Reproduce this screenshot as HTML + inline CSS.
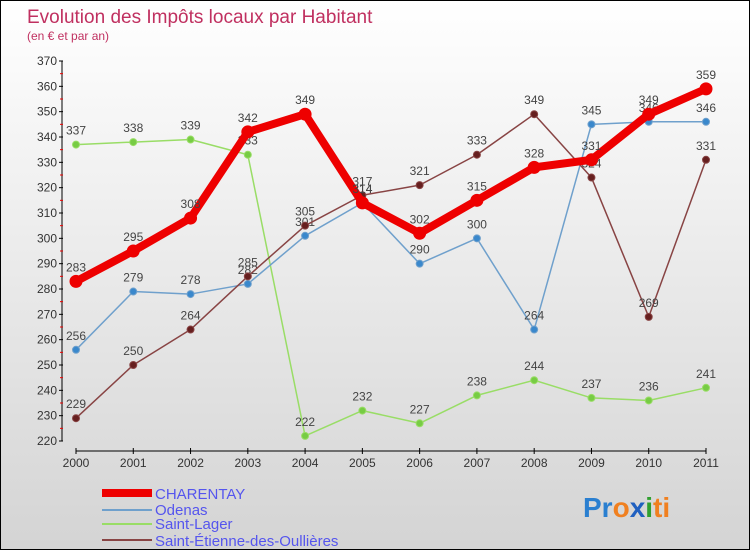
<!DOCTYPE html>
<html><head><meta charset="utf-8"><style>
body{margin:0}
#c{width:748px;height:548px;border:1px solid #000;background:linear-gradient(#fff,#d4d4d4);position:relative;font-family:"Liberation Sans",sans-serif;overflow:hidden}
</style></head><body>
<div id="c">
<svg width="748" height="548" id="s">
<text x="26" y="22" font-size="19" fill="#c03060">Evolution des Impôts locaux par Habitant</text>
<text x="26" y="39" font-size="12" fill="#c03060">(en € et par an)</text>
<g id="ax"></g><g id="ser"></g>
<g font-size="15" fill="#5555ee">
<rect x="101" y="488" width="50" height="8" fill="#e00"/>
<text x="154" y="498">CHARENTAY</text>
<line x1="101" y1="509" x2="151" y2="509" stroke="#6fa0cc" stroke-width="2"/>
<text x="154" y="514">Odenas</text>
<line x1="101" y1="523" x2="151" y2="523" stroke="#99dd66" stroke-width="2"/>
<text x="154" y="528">Saint-Lager</text>
<line x1="101" y1="539" x2="151" y2="539" stroke="#884444" stroke-width="2"/>
<text x="154" y="545">Saint-Étienne-des-Oullières</text>
</g>
<text x="582" y="516" font-size="28" font-weight="bold"><tspan fill="#2a7fd0">Pr</tspan><tspan fill="#f08020">o</tspan><tspan fill="#2060c0">x</tspan><tspan fill="#30a030">i</tspan><tspan fill="#f08020">ti</tspan></text>
</svg></div>
<script>
const years=[2000,2001,2002,2003,2004,2005,2006,2007,2008,2009,2010,2011];
const yTicks=[220,230,240,250,260,270,280,290,300,310,320,330,340,350,360,370];
const charentay=[283,295,308,342,349,314,302,315,328,331,349,359];
const odenas=[256,279,278,282,301,314,290,300,264,345,346,346];
const saintLager=[337,338,339,333,222,232,227,238,244,237,236,241];
const saintEtienne=[229,250,264,285,305,317,321,333,349,324,269,331];
const NS="http://www.w3.org/2000/svg";
function X(i){return 75+i*(705-75)/11;}
function Y(v){return 60+(370-v)*380/150;}
function mk(t,a,p){const e=document.createElementNS(NS,t);for(const k in a)e.setAttribute(k,a[k]);p.appendChild(e);return e;}
const ax=document.getElementById('ax');
let e=mk('line',{x1:61,y1:Y(370),x2:61,y2:Y(220),stroke:'#000'},ax);


e=mk('line',{x1:X(0),y1:450,x2:X(11),y2:450,stroke:'#000'},ax);


yTicks.forEach(v=>{
  mk('line',{x1:58,y1:Y(v),x2:62,y2:Y(v),stroke:'#000'},ax);
  if(v<370)mk('line',{x1:59,y1:Y(v+5),x2:62,y2:Y(v+5),stroke:'#e00'},ax);
  const t=mk('text',{x:56,y:Y(v)+4,'font-size':12,fill:'#333','text-anchor':'end'},ax);
  t.textContent=v;
  
  
});
years.forEach((y,i)=>{
  mk('line',{x1:X(i),y1:447,x2:X(i),y2:453,stroke:'#000'},ax);
  const t=mk('text',{x:X(i),y:466,'font-size':12,fill:'#333','text-anchor':'middle'},ax);
  t.textContent=y;
  
  
});
const ser=document.getElementById('ser');
function draw(vals,name,col,w,r,dot){
  const g=mk('g',{},ser);
  
  
  const p=mk('polyline',{points:vals.map((v,i)=>X(i)+','+Y(v)).join(' '),fill:'none',stroke:col,'stroke-width':w,'stroke-linejoin':'round'},g);
  
  
  vals.forEach((v,i)=>{
    const c=mk('circle',{cx:X(i),cy:Y(v),r:r,fill:dot,stroke:col,'stroke-width':1},g);
    
    
    const t=mk('text',{x:X(i),y:Y(v)-10,'font-size':12,fill:'#444','text-anchor':'middle'},g);
    t.textContent=v;
    
    
  });
}
draw(saintLager,'saint-lager','#99dd66',1.5,3.5,'#77cc44');
draw(odenas,'odenas','#6fa0cc',1.5,3.5,'#3a88cc');
draw(saintEtienne,'saint-etienne','#884444',1.5,3.5,'#661f1f');
draw(charentay,'charentay','#ee0000',8,6,'#ee0000');
</script>
</body></html>
